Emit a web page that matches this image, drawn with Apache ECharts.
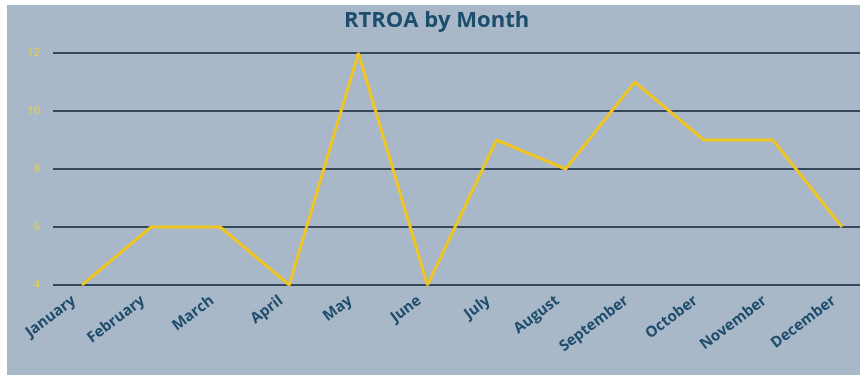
<!DOCTYPE html>
<html>
<head>
<meta charset="utf-8">
<script src="https://cdn.jsdelivr.net/npm/echarts@6/dist/echarts.min.js"></script>
<style>
  html, body { margin: 0; padding: 0; background: #ffffff; }
  #chart { width: 860px; height: 381px; }
</style>
</head>
<body>
<div id="chart"></div>
<script>
// Monthly RTROA values
const months = ['January', 'February', 'March', 'April', 'May', 'June',
                'July', 'August', 'September', 'October', 'November', 'December'];
const rtroa = [4, 6, 6, 4, 12, 4, 9, 8, 11, 9, 9, 6];
const yTicks = [4, 6, 8, 10, 12];

const chart = echarts.init(document.getElementById('chart'));

const yMin = yTicks[0];
const yMax = yTicks[yTicks.length - 1];
const yStep = yTicks[1] - yTicks[0];

chart.setOption({
  backgroundColor: '#ffffff',
  animation: false,
  graphic: [
    {
      type: 'rect',
      shape: { x: 7, y: 5, width: 853, height: 370 },
      style: { fill: '#a8b8c9' },
      z: -10
    },
    {
      type: 'text',
      left: 344,
      top: 10,
      style: {
        text: 'RTROA by Month',
        fontFamily: 'Open Sans',
        fontWeight: 'bold',
        fontSize: 22,
        fill: '#1d4d6c'
      },
      z: 10
    }
  ],
  grid: [
    // wide grid carrying the horizontal rules and value labels
    { left: 53, right: 0, top: 53, bottom: 96 },
    // plotting grid for the monthly line
    { left: 82, right: 18, top: 53, bottom: 96 }
  ],
  xAxis: [
    { gridIndex: 0, type: 'value', show: false, min: 0, max: 1 },
    {
      gridIndex: 1,
      type: 'category',
      data: months,
      boundaryGap: false,
      axisLine: { show: false },
      axisTick: { show: false },
      axisLabel: {
        rotate: 37,
        margin: 8,
        padding: [0, 10, 0, 0],
        interval: 0,
        fontFamily: 'Open Sans',
        fontWeight: 'bold',
        fontSize: 15,
        color: '#1e4c6a'
      }
    }
  ],
  yAxis: [
    {
      gridIndex: 0,
      type: 'value',
      min: yMin,
      max: yMax,
      interval: yStep,
      axisLine: { show: false },
      axisTick: { show: false },
      axisLabel: {
        margin: 13,
        fontFamily: 'Open Sans',
        fontSize: 11,
        color: '#e8d24c'
      },
      splitLine: { lineStyle: { color: '#36495b', width: 2 } }
    },
    {
      gridIndex: 1,
      type: 'value',
      min: yMin,
      max: yMax,
      interval: yStep,
      show: false,
      splitLine: { show: false }
    }
  ],
  series: [{
    type: 'line',
    xAxisIndex: 1,
    yAxisIndex: 1,
    data: rtroa,
    symbol: 'none',
    lineStyle: { color: '#efc523', width: 3 },
    z: 5
  }]
});
</script>
</body>
</html>
